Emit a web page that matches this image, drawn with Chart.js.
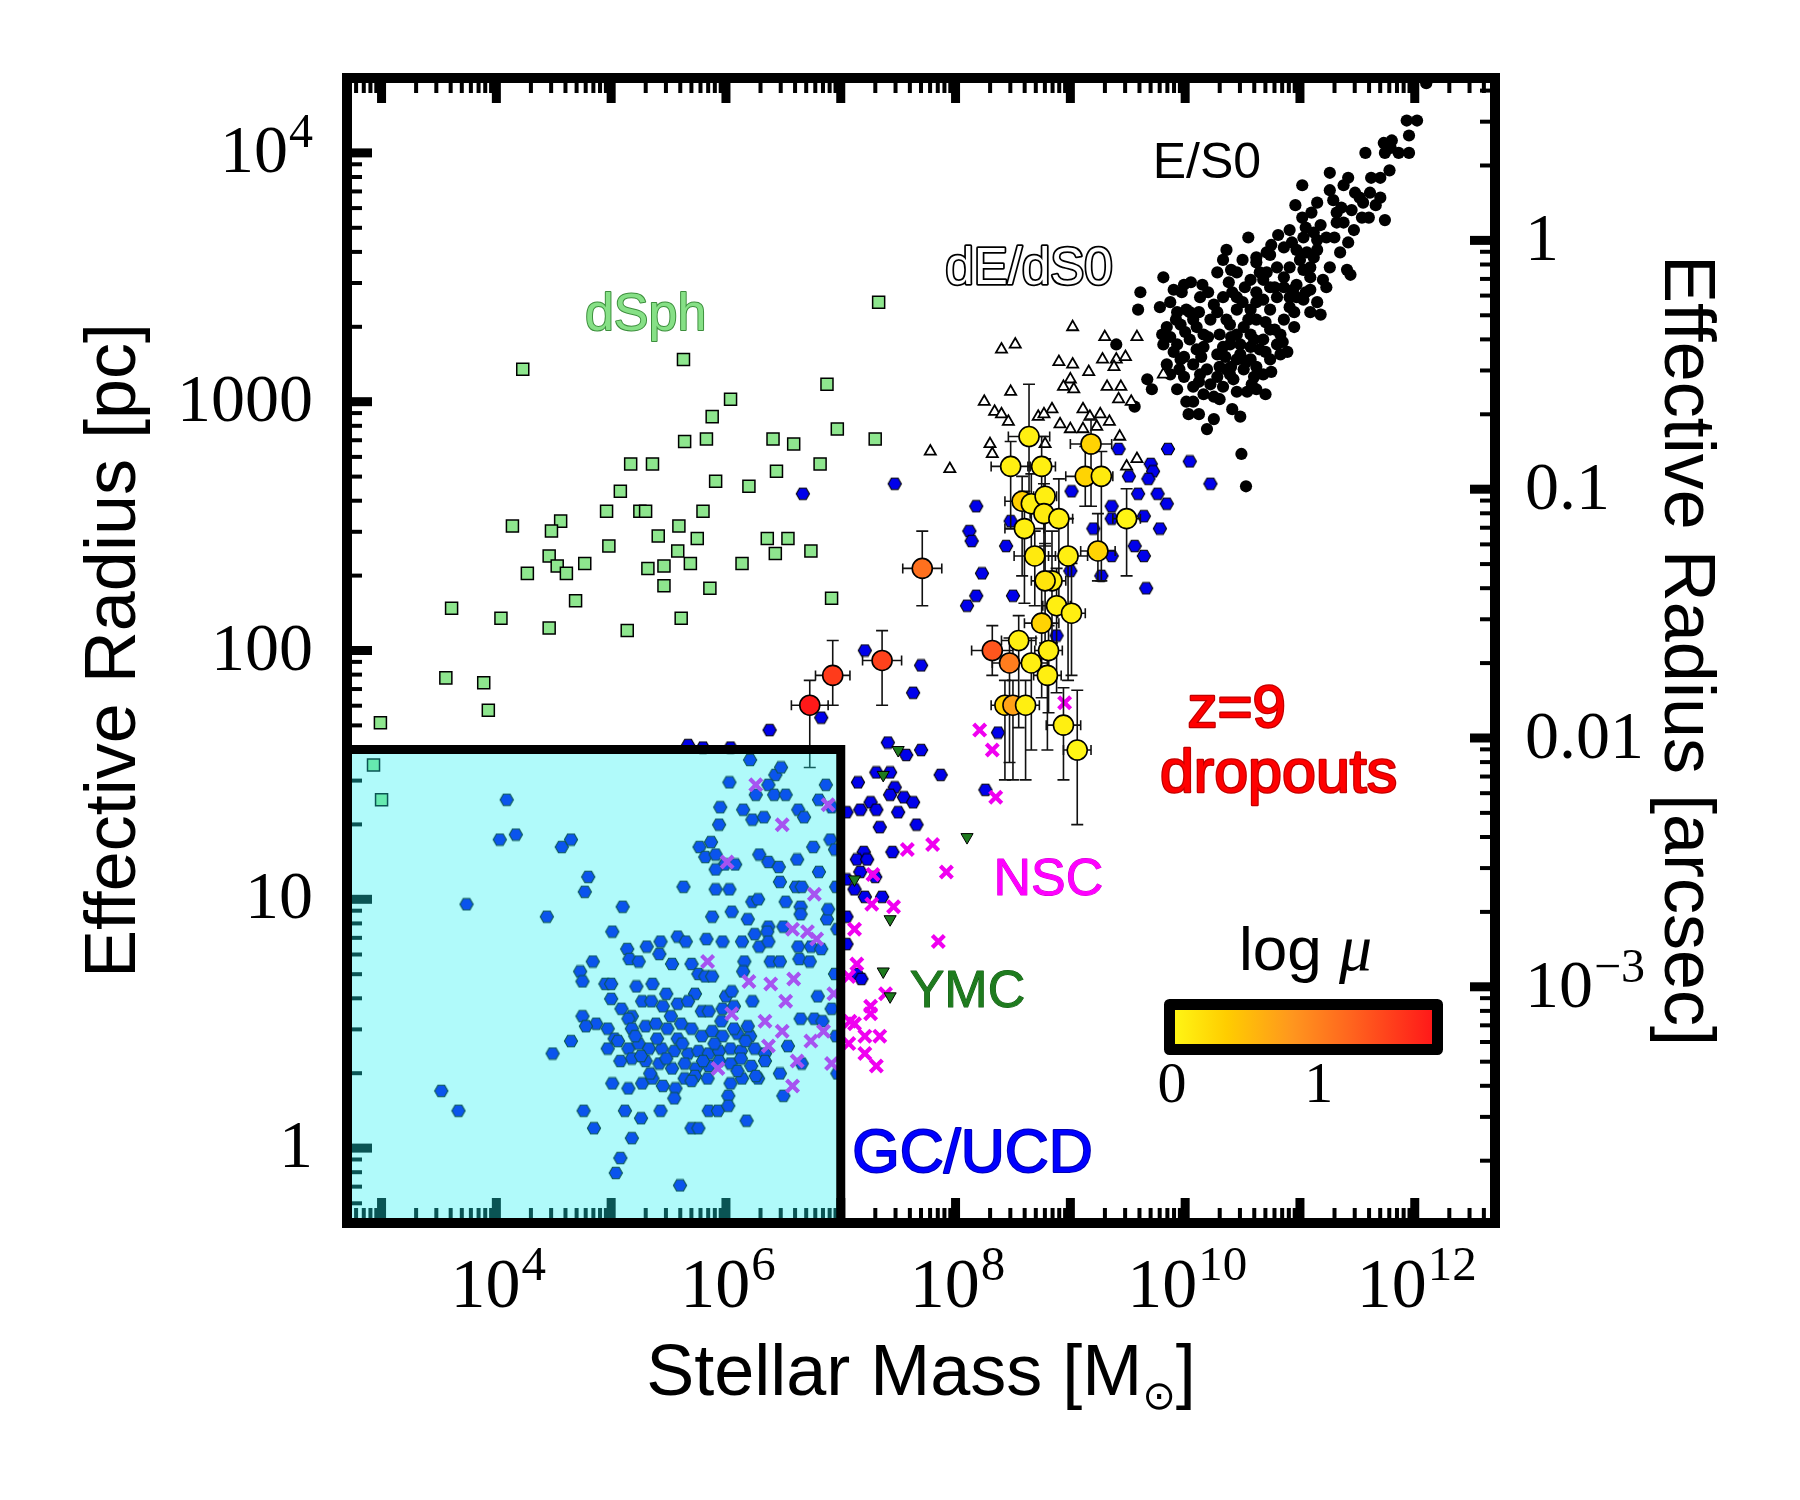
<!DOCTYPE html>
<html>
<head>
<meta charset="utf-8">
<title>Effective radius vs stellar mass</title>
<script src="https://cdn.jsdelivr.net/npm/chart.js@4.4.1/dist/chart.umd.min.js"></script>
<style>
  html, body { margin: 0; padding: 0; background: #fff; }
  canvas { display: block; }
</style>
</head>
<body>
<canvas id="sizeMassChart" width="1800" height="1500"></canvas>
<script>
// all pairs are [log10(M*/Msun), log10(Re/pc)]

const ellipticals = [
  [11.93,4.13],[12.02,4.13],[11.95,4.07],[11.95,4.00],[11.73,4.04],[11.80,4.05],[11.79,4.02],[11.74,4.00],
  [11.57,4.00],[11.78,3.93],[11.70,3.90],[11.26,3.92],[11.42,3.90],[11.38,3.87],[11.26,3.85],[11.02,3.87],
  [11.29,3.81],[11.48,3.84],[11.52,3.82],[11.61,3.84],[11.70,3.82],[11.66,3.79],[10.96,3.79],[11.10,3.76],
  [11.02,3.74],[11.54,3.74],[11.60,3.74],[11.74,3.73],[11.47,3.69],[11.32,3.72],[11.38,3.72],[11.18,3.71],
  [11.12,3.68],[11.23,3.66],[11.42,3.64],[10.81,3.67],[10.93,3.64],[10.55,3.66],[10.86,3.62],[10.74,3.59],
  [10.62,3.58],[10.97,3.61],[11.06,3.60],[11.15,3.61],[10.36,3.61],[10.33,3.57],[10.45,3.52],[10.28,3.52],
  [10.62,3.56],[11.41,3.53],[11.44,3.51],[9.81,3.50],[9.99,3.47],[10.15,3.47],[11.20,3.49],[11.23,3.46],
  [10.52,3.46],[10.68,3.49],[10.74,3.46],[10.86,3.46],[10.97,3.47],[11.09,3.45],[10.41,3.44],[9.61,3.44],
  [9.59,3.37],[9.87,3.40],[9.97,3.44],[10.01,3.37],[10.04,3.36],[10.25,3.39],[10.33,3.42],[10.45,3.37],
  [10.57,3.37],[10.68,3.41],[10.80,3.42],[10.91,3.38],[11.03,3.41],[11.15,3.40],[11.09,3.36],[11.18,3.35],
  [9.84,3.30],[9.96,3.31],[10.10,3.30],[10.22,3.33],[10.30,3.27],[10.39,3.31],[10.51,3.30],[10.62,3.33],
  [10.74,3.29],[10.83,3.27],[10.89,3.20],[9.81,3.23],[9.93,3.23],[10.04,3.25],[10.16,3.22],[10.28,3.19],
  [10.39,3.23],[10.48,3.19],[10.57,3.22],[10.65,3.21],[10.74,3.17],[10.83,3.19],[9.84,3.15],[9.96,3.17],
  [10.07,3.15],[10.19,3.13],[10.30,3.14],[10.39,3.11],[10.51,3.13],[10.60,3.10],[10.68,3.11],[9.87,3.11],
  [9.99,3.10],[10.13,3.11],[10.22,3.07],[10.33,3.06],[10.42,3.09],[10.54,3.04],[10.62,3.05],[10.70,3.03],
  [9.67,3.09],[9.71,3.05],[10.01,3.00],[10.07,3.00],[10.30,3.01],[10.41,2.97],[10.03,2.95],[10.12,2.95],
  [10.25,2.93],[10.48,2.94],[10.19,2.89],[10.49,2.79],[10.53,2.66],[9.40,3.23],[9.56,2.98],
  [10.07,3.33],[10.16,3.27],[10.45,3.27],[10.57,3.27],[10.68,3.25],[10.33,3.22],[10.10,3.21],[9.99,3.18],
  [10.62,3.14],[10.45,3.17],[10.28,3.10],[10.16,3.03],[10.86,3.33],[10.97,3.42],[10.62,3.44],[10.74,3.37],
  [10.86,3.50],[11.03,3.53],[11.09,3.54],[10.91,3.54],[10.80,3.54],[10.71,3.52],[10.57,3.49],[10.45,3.42],
  [10.28,3.36],[10.13,3.42],[9.93,3.36],[9.87,3.26],[10.48,3.23],[10.80,3.23],[10.36,3.13],[10.57,3.17],
  [9.93,3.05],[10.07,3.06],[11.32,3.76],[11.15,3.65],[11.03,3.66],[11.35,3.60],[10.91,3.69],[10.71,3.60],
  [11.09,3.50],[11.26,3.54],[10.91,3.42],[12.10,4.28],
  [9.90,3.45],[10.05,3.48],[10.20,3.44],[10.38,3.48],[10.50,3.40],[10.62,3.40],[10.78,3.46],[10.94,3.45],
  [9.78,3.38],[9.92,3.33],[10.12,3.36],[10.36,3.33],[10.55,3.33],[10.70,3.32],[10.95,3.36],[11.05,3.44],
  [9.80,3.27],[10.00,3.28],[10.20,3.26],[10.40,3.26],[10.60,3.25],[10.78,3.29],[10.95,3.30],
  [9.90,3.20],[10.14,3.18],[10.35,3.18],[10.53,3.16],[10.70,3.20],[10.85,3.24],
  [9.95,3.13],[10.12,3.08],[10.40,3.14],[10.58,3.07],[10.75,3.12],[10.25,3.02],[10.45,3.04],
  [11.00,3.57],[10.75,3.63],[10.50,3.57],[10.40,3.53],[11.12,3.58],[11.30,3.66],[11.36,3.78],[11.55,3.80],
  [11.45,3.77],[11.15,3.80],[11.62,3.90],[11.86,4.00],[11.05,3.70],[10.65,3.52]
];

const dwarfEllipticals = [
  [9.02,3.30],[8.40,3.21],[8.52,3.23],[9.30,3.26],[9.58,3.26],[8.90,3.16],[9.02,3.15],[9.28,3.17],
  [9.40,3.17],[9.48,3.18],[9.16,3.12],[9.38,3.14],[9.00,3.09],[8.94,3.06],[9.03,3.05],[9.32,3.06],
  [9.44,3.06],[8.48,3.04],[8.25,3.00],[8.34,2.96],[8.40,2.95],[8.46,2.92],[8.72,2.94],[8.84,2.97],
  [9.11,2.97],[9.17,2.94],[9.26,2.95],[9.34,2.92],[8.91,2.91],[9.00,2.89],[9.11,2.89],[9.23,2.90],
  [9.42,3.01],[9.53,3.00],[9.43,2.86],[8.77,2.95],[8.30,2.83],[8.32,2.79],[8.78,2.83],[7.78,2.80],
  [7.95,2.73],[9.58,2.77],[9.49,2.74],[9.81,3.11]
];

const dwarfSpheroidals = [
  [4.23,3.13],[5.63,3.17],[6.88,3.07],[6.04,3.01],[5.88,2.94],[6.97,2.89],[5.64,2.84],[5.83,2.85],
  [6.41,2.85],[6.59,2.83],[5.17,2.75],[5.36,2.75],[6.82,2.75],[6.44,2.72],[5.91,2.68],[6.20,2.66],
  [5.08,2.64],[4.96,2.56],[5.25,2.56],[5.30,2.56],[5.80,2.56],[4.14,2.50],[4.56,2.52],[4.48,2.48],
  [5.59,2.50],[5.41,2.46],[5.75,2.45],[6.36,2.45],[6.54,2.45],[4.98,2.42],[4.46,2.38],[5.58,2.40],
  [6.43,2.39],[6.74,2.40],[4.53,2.34],[4.61,2.31],[4.27,2.31],[4.77,2.35],[5.32,2.33],[5.46,2.34],
  [5.69,2.35],[6.14,2.35],[5.46,2.26],[5.86,2.25],[6.92,2.21],[4.69,2.20],[3.61,2.17],[4.04,2.13],
  [4.46,2.09],[5.14,2.08],[5.61,2.13],[3.56,1.89],[3.89,1.87],[3.93,1.76],[2.99,1.71],[7.33,3.40],
  [7.30,2.85],[2.93,1.54],[3.00,1.40]
];

const globularClusters = [
  // inside the GC/UCD box
  [4.09,1.40],[4.03,1.24],[4.17,1.26],[4.57,1.21],[4.65,1.24],[4.80,1.09],[4.77,1.03],[3.74,0.98],
  [4.44,0.93],[5.10,0.97],[5.01,0.87],[3.52,0.23],[3.67,0.15],[4.65,0.43],[4.49,0.38],[4.76,0.15],
  [4.85,0.08],[5.08,-0.04],[5.04,-0.10],[5.60,-0.15],[5.18,0.04],[5.12,0.15],[5.26,0.12],[5.43,0.15],
  [5.70,0.08],[5.76,0.08],[5.85,0.15],[5.93,0.15],[6.18,0.11],[6.50,0.21],
  [6.21,1.56],[6.43,1.50],[6.48,1.53],[6.03,1.47],[6.37,1.46],[6.26,1.42],[6.42,1.42],[6.52,1.42],
  [6.87,1.46],[5.95,1.37],[6.15,1.36],[6.63,1.36],[6.68,1.33],[6.81,1.40],[6.92,1.37],[5.94,1.30],
  [6.23,1.32],[6.33,1.33],[5.87,1.23],[5.77,1.21],[5.82,1.17],[5.91,1.18],[6.08,1.14],[5.99,1.14],
  [5.91,1.12],[6.29,1.18],[6.37,1.15],[6.46,1.13],[6.62,1.16],[6.76,1.21],[6.91,1.24],[6.81,1.11],
  [6.47,1.07],[6.61,1.05],[6.66,1.05],[5.63,1.05],[5.91,1.04],[6.03,1.04],[6.23,0.99],[6.28,1.00],
  [6.52,0.99],[6.65,0.97],[6.65,0.94],[5.88,0.93],[6.05,0.95],[6.19,0.92],[6.37,0.89],[6.50,0.89],
  [6.88,0.92],[6.89,0.96],[6.25,0.86],[6.36,0.87],[5.83,0.84],[5.97,0.83],[6.14,0.83],[6.29,0.81],
  [6.37,0.83],[6.63,0.81],[6.74,0.81],[6.83,0.80],[6.64,0.76],[6.73,0.75],[6.39,0.75],[6.47,0.75],
  [6.16,0.75],[6.15,0.71],[6.23,0.59],[6.80,0.61],[6.92,0.56],[6.65,0.52],[6.77,0.52],[6.84,0.51],
  [6.54,0.41],[6.66,0.34],[6.47,0.30],[6.28,0.28],[6.21,0.45],[6.10,0.46],
  [5.14,0.80],[5.31,0.81],[5.43,0.83],[5.58,0.85],[5.65,0.83],[5.42,0.78],[5.53,0.74],[5.16,0.76],
  [5.24,0.75],[4.84,0.75],[4.73,0.71],[4.75,0.67],[4.95,0.66],[5.00,0.66],[5.22,0.65],[5.36,0.66],
  [5.48,0.62],[5.70,0.74],[5.76,0.70],[5.82,0.69],[5.73,0.62],[5.88,0.69],[6.00,0.61],[6.05,0.63],
  [5.00,0.60],[5.09,0.56],[5.18,0.53],[5.27,0.59],[5.35,0.59],[5.45,0.57],[5.58,0.58],[5.67,0.59],
  [5.79,0.55],[5.85,0.55],[5.97,0.56],[6.07,0.57],[4.75,0.53],[4.87,0.50],[4.78,0.49],[4.97,0.48],
  [5.03,0.44],[5.15,0.52],[5.18,0.48],[5.30,0.49],[5.39,0.50],[5.49,0.48],[5.61,0.50],[5.70,0.48],
  [5.79,0.45],[5.88,0.47],[5.97,0.45],[6.07,0.48],[6.19,0.49],[4.97,0.40],[5.06,0.43],[5.15,0.40],
  [5.24,0.42],[5.33,0.40],[5.44,0.40],[5.55,0.39],[5.67,0.38],[5.76,0.39],[5.85,0.38],[5.94,0.39],
  [6.04,0.40],[6.13,0.39],[6.25,0.40],[6.34,0.38],[5.18,0.36],[5.30,0.35],[5.42,0.34],[5.53,0.32],
  [5.64,0.34],[5.74,0.32],[5.85,0.33],[5.94,0.35],[6.04,0.34],[6.13,0.36],[6.22,0.33],[6.34,0.35],
  [5.01,0.26],[5.15,0.24],[5.27,0.26],[5.36,0.28],[5.45,0.25],[5.56,0.24],[5.64,0.28],[5.73,0.29],
  [5.84,0.28],[6.04,0.26],[6.14,0.28],[6.26,0.29],[5.55,0.20],[6.02,0.21],[6.02,0.17],
  [5.21,0.45],[5.48,0.36],[5.58,0.44],[5.90,0.42],[5.34,0.30],[5.70,0.27],[6.10,0.31],[5.52,0.53],
  [5.08,0.35],[5.40,0.44],[5.62,0.42],[5.96,0.51],[5.26,0.37],[5.80,0.35],[6.17,0.43],
  [6.95,1.20],[6.96,1.05],[6.97,0.88],[6.95,0.70],[6.96,0.45],[6.97,0.30],
  [5.67,1.62],[5.80,1.61],[6.04,1.61],
  // outside the box (UCDs)
  [6.38,1.68],[6.83,1.73],[7.70,1.94],[7.63,1.83],[8.37,1.67],[7.41,1.63],[7.57,1.58],[7.70,1.60],
  [7.87,1.50],[7.31,1.51],[7.43,1.51],[7.15,1.47],[7.47,1.45],[7.43,1.42],[7.55,1.41],[7.63,1.39],
  [7.26,1.39],[7.17,1.36],[7.31,1.36],[7.50,1.35],[7.66,1.30],[7.34,1.29],[8.26,1.44],[7.05,1.35],
  [7.20,1.19],[7.14,1.16],[7.23,1.16],[7.45,1.19],[7.17,1.11],[7.30,1.09],[7.12,1.04],[7.21,1.01],
  [7.36,1.01],[7.05,1.08],[7.05,0.93],[7.05,0.82],[7.14,0.70],[7.18,0.68],
  [7.47,2.67],[6.67,2.63],[8.18,2.58],[8.12,2.48],[8.14,2.44],[8.44,2.42],[8.48,2.52],[8.23,2.31],
  [8.18,2.22],[8.10,2.18],[8.50,2.22],[9.01,2.64],[9.42,2.81],[9.85,2.81],[10.04,2.76],[10.22,2.67],
  [9.51,2.70],[9.70,2.75],[9.72,2.72],[9.68,2.69],[9.36,2.58],[9.59,2.63],[9.76,2.63],[9.84,2.59],
  [9.64,2.54],[9.78,2.49],[9.36,2.53],[9.20,2.49],[9.56,2.42],[9.64,2.38],[9.36,2.38],[9.27,2.30],
  [9.66,2.25],[9.00,2.32],[8.88,2.06],[7.21,2.00]
];

const nuclearClusters = [
  [8.21,1.68],[8.32,1.60],[8.35,1.41],[8.95,1.79],[7.58,1.20],[7.80,1.22],[7.92,1.11],[7.28,1.10],
  [7.46,0.97],[7.27,0.98],[7.85,0.83],[7.12,0.88],[7.14,0.74],[7.07,0.69],[7.26,0.57],[7.26,0.54],
  [7.39,0.62],[7.12,0.50],[7.21,0.45],[7.34,0.45],[7.21,0.38],[7.31,0.33],[7.07,0.42],[7.08,0.51],
  [6.26,1.46],[6.49,1.30],[6.89,1.38],[6.01,1.15],[6.77,1.02],[6.58,0.88],[6.71,0.87],[6.79,0.84],
  [5.84,0.75],[6.20,0.67],[6.39,0.66],[6.59,0.68],[6.52,0.59],[6.94,0.62],[6.05,0.54],[6.34,0.51],
  [6.49,0.47],[6.74,0.43],[6.85,0.47],[6.37,0.41],[6.62,0.35],[6.92,0.34],[5.93,0.32],[6.58,0.25]
];

const youngMassiveClusters = [
  [7.50,1.60],[7.37,1.50],[8.10,1.25],[7.12,1.08],[7.43,0.92],[7.37,0.71],[7.43,0.61]
];

// z=9 dropouts: position, log magnification, error bars (dex)
const dropLogM   = [8.64,9.18,8.48,8.75,9.13,9.27,8.58,8.66,8.78,8.77,8.90,8.60,9.49,8.69,8.98,9.24,8.84,8.78,8.88,9.01,8.75,8.55,8.81,8.66,8.80,8.32,8.47,8.43,8.50,8.61,8.94,9.06,7.71,7.36,6.93,6.73];
const dropLogR   = [2.86,2.83,2.74,2.74,2.70,2.70,2.60,2.59,2.62,2.55,2.53,2.49,2.53,2.38,2.38,2.40,2.28,2.28,2.18,2.15,2.11,2.04,2.00,1.95,1.90,2.00,1.95,1.78,1.78,1.78,1.70,1.60,2.33,1.96,1.90,1.78];
const dropLogMu  = [0.05,0.30,0.05,0.05,0.30,0.10,0.35,0.05,0.05,0.10,0.05,0.05,0.00,0.10,0.05,0.30,0.05,0.15,0.05,0.05,0.30,0.05,0.05,0.05,0.05,1.30,1.00,0.30,0.70,0.05,0.05,0.00,1.10,1.45,1.50,1.75];
const dropErrM   = [0.18,0.18,0.17,0.12,0.17,0.10,0.15,0.12,0.10,0.12,0.12,0.17,0.12,0.18,0.17,0.15,0.12,0.12,0.12,0.12,0.15,0.15,0.12,0.15,0.12,0.18,0.15,0.12,0.12,0.12,0.15,0.12,0.17,0.17,0.15,0.16];
const dropErrUp  = [0.21,0.10,0.10,0.12,0.12,0.10,0.10,0.12,0.15,0.12,0.16,0.15,0.12,0.10,0.15,0.15,0.20,0.15,0.15,0.20,0.15,0.10,0.10,0.10,0.10,0.10,0.10,0.10,0.10,0.10,0.15,0.24,0.15,0.12,0.14,0.10];
const dropErrDown= [0.25,0.25,0.25,0.15,0.12,0.42,0.30,0.20,0.20,0.30,0.35,0.30,0.23,0.20,0.50,0.12,0.25,0.25,0.35,0.25,0.30,0.35,0.25,0.35,0.30,0.10,0.40,0.30,0.30,0.30,0.22,0.30,0.15,0.18,0.12,0.25];

// axes
const massRange = [500, 5e12];
const radiusRange = [0.5, 2e4];
const pcPerArcsec = 4450;          // physical scale at z = 9
const boxMaxMass = 1e7;            // GC/UCD region
const boxMaxRadius = 40;
const xTickExps = [4, 6, 8, 10, 12];
const yTickLabels = ['1', '10', '100', '1000', '10^4'];
const arcsecTickLabels = ['10^-3', '0.01', '0.1', '1'];
const logMuTicks = ['0', '1'];
const logMuMax = 1.75;
const cmapStops = [
  [0.0, [255, 245, 20]],
  [0.35, [255, 205, 0]],
  [0.8, [255, 150, 30]],
  [1.2, [255, 100, 30]],
  [1.75, [255, 25, 25]]
];

function cmap(v) {
  if (v <= cmapStops[0][0]) return cmapStops[0][1];
  for (let i = 1; i < cmapStops.length; i++) {
    const [a, ca] = cmapStops[i - 1], [b, cb] = cmapStops[i];
    if (v <= b) {
      const t = (v - a) / (b - a);
      return ca.map((c, j) => Math.round(c + (cb[j] - c) * t));
    }
  }
  return cmapStops[cmapStops.length - 1][1];
}
const rgb = c => `rgb(${c[0]},${c[1]},${c[2]})`;
const toPoints = list => list.map(p => ({ x: Math.pow(10, p[0]), y: Math.pow(10, p[1]) }));

// hexagon marker for the GC/UCD points
const hexMarker = (function () {
  const c = document.createElement('canvas');
  c.width = 16; c.height = 14;
  const g = c.getContext('2d');
  g.beginPath();
  for (let k = 0; k < 6; k++) {
    const a = k * Math.PI / 3;
    const x = 8 + 6.6 * Math.cos(a), y = 7 + 6.6 * Math.sin(a);
    k ? g.lineTo(x, y) : g.moveTo(x, y);
  }
  g.closePath();
  g.fillStyle = 'rgb(0,0,235)';
  g.fill();
  g.lineWidth = 1.1;
  g.strokeStyle = '#000';
  g.stroke();
  return c;
})();

function drawPow(ctx, base, exp, xLeft, baseline, size, raise) {
  ctx.font = `${size}px "Liberation Serif"`;
  const wb = ctx.measureText(base).width;
  ctx.textAlign = 'left';
  ctx.fillText(base, xLeft, baseline);
  ctx.font = `${Math.round(size * 0.7)}px "Liberation Serif"`;
  ctx.fillText(exp, xLeft + wb + 1, baseline - raise);
}
function powWidth(ctx, base, exp, size) {
  ctx.font = `${size}px "Liberation Serif"`;
  const wb = ctx.measureText(base).width;
  ctx.font = `${Math.round(size * 0.7)}px "Liberation Serif"`;
  return wb + 1 + ctx.measureText(exp).width;
}
function drawLabel(ctx, text, x, y, size, fill, stroke, lw) {
  ctx.font = `${size}px "Liberation Sans"`;
  ctx.textAlign = 'left';
  ctx.textBaseline = 'alphabetic';
  if (stroke) {
    ctx.lineJoin = 'round';
    ctx.lineWidth = lw;
    ctx.strokeStyle = stroke;
    ctx.strokeText(text, x, y);
  }
  ctx.fillStyle = fill;
  ctx.fillText(text, x, y);
}
function drawTickText(ctx, label, x, baseline, align, size) {
  const parts = label.split('^');
  const w = parts.length > 1 ? powWidth(ctx, parts[0], parts[1].replace('-', '\u2212'), size)
                             : (ctx.font = `${size}px "Liberation Serif"`, ctx.measureText(label).width);
  const left = align === 'right' ? x - w : x;
  if (parts.length > 1) {
    drawPow(ctx, parts[0], parts[1].replace('-', '\u2212'), left, baseline, size, 25);
  } else {
    ctx.font = `${size}px "Liberation Serif"`;
    ctx.textAlign = 'left';
    ctx.fillText(label, left, baseline);
  }
}

function drawErrorBars(chart) {
  const ctx = chart.ctx, xs = chart.scales.x, ys = chart.scales.y;
  ctx.save();
  ctx.strokeStyle = '#111';
  ctx.lineWidth = 1.6;
  dropLogM.forEach((m, i) => {
    const r = dropLogR[i];
    const x = xs.getPixelForValue(10 ** m), y = ys.getPixelForValue(10 ** r);
    const x0 = xs.getPixelForValue(10 ** (m - dropErrM[i]));
    const x1 = xs.getPixelForValue(10 ** (m + dropErrM[i]));
    const y0 = ys.getPixelForValue(10 ** (r + dropErrUp[i]));
    const y1 = ys.getPixelForValue(10 ** (r - dropErrDown[i]));
    ctx.beginPath();
    ctx.moveTo(x0, y); ctx.lineTo(x1, y);
    ctx.moveTo(x0, y - 5); ctx.lineTo(x0, y + 5);
    ctx.moveTo(x1, y - 5); ctx.lineTo(x1, y + 5);
    ctx.moveTo(x, y0); ctx.lineTo(x, y1);
    ctx.moveTo(x - 6, y0); ctx.lineTo(x + 6, y0);
    ctx.moveTo(x - 6, y1); ctx.lineTo(x + 6, y1);
    ctx.stroke();
  });
  ctx.restore();
}

const decorations = {
  id: 'decorations',
  beforeDraw(chart) {
    const ctx = chart.ctx;
    ctx.save();
    ctx.fillStyle = '#fff';
    ctx.fillRect(0, 0, chart.width, chart.height);
    ctx.restore();
  },
  beforeDatasetDraw(chart, args) {
    if (chart.data.datasets[args.index].label === 'z=9 dropouts') drawErrorBars(chart);
  },
  afterDatasetsDraw(chart) {
    const ctx = chart.ctx, a = chart.chartArea;
    const xs = chart.scales.x, ys = chart.scales.y;
    ctx.save();

    // inward ticks on all four sides
    ctx.strokeStyle = '#000';
    for (let d = 2; d <= 12; d++) {
      for (let k = 1; k <= 9; k++) {
        const v = k * Math.pow(10, d);
        if (v < massRange[0] || v > massRange[1]) continue;
        const x = xs.getPixelForValue(v), major = k === 1;
        const len = major ? 25 : 15;
        ctx.lineWidth = major ? 9 : 4;
        ctx.beginPath();
        ctx.moveTo(x, a.bottom); ctx.lineTo(x, a.bottom - len);
        ctx.moveTo(x, a.top); ctx.lineTo(x, a.top + len);
        ctx.stroke();
      }
    }
    for (let d = -1; d <= 4; d++) {
      for (let k = 1; k <= 9; k++) {
        const v = k * Math.pow(10, d);
        if (v < radiusRange[0] || v > radiusRange[1]) continue;
        const y = ys.getPixelForValue(v), major = k === 1;
        ctx.lineWidth = major ? 9 : 4;
        ctx.beginPath();
        ctx.moveTo(a.left, y); ctx.lineTo(a.left + (major ? 25 : 15), y);
        ctx.stroke();
      }
    }
    for (let d = -4; d <= 1; d++) {
      for (let k = 1; k <= 9; k++) {
        const v = k * Math.pow(10, d) * pcPerArcsec;
        if (v < radiusRange[0] || v > radiusRange[1]) continue;
        const y = ys.getPixelForValue(v), major = k === 1;
        ctx.lineWidth = major ? 9 : 4;
        ctx.beginPath();
        ctx.moveTo(a.right, y); ctx.lineTo(a.right - (major ? 25 : 15), y);
        ctx.stroke();
      }
    }

    // GC/UCD region: translucent cyan box
    const bx = xs.getPixelForValue(boxMaxMass), by = ys.getPixelForValue(boxMaxRadius);
    ctx.fillStyle = 'rgba(30,240,240,0.35)';
    ctx.fillRect(a.left, by, bx - a.left, a.bottom - by);
    ctx.lineWidth = 9;
    ctx.lineJoin = 'miter';
    ctx.beginPath();
    ctx.moveTo(a.left, by); ctx.lineTo(bx, by); ctx.lineTo(bx, a.bottom);
    ctx.stroke();

    // frame
    ctx.lineWidth = 10;
    ctx.strokeRect(a.left, a.top, a.right - a.left, a.bottom - a.top);

    // tick labels
    ctx.fillStyle = '#000';
    ctx.textBaseline = 'alphabetic';
    xTickExps.forEach(e => {
      const x = xs.getPixelForValue(Math.pow(10, e));
      const w = powWidth(ctx, '10', String(e), 70);
      drawPow(ctx, '10', String(e), x - w / 2 + 2, a.bottom + 84, 70, 27);
    });
    yTickLabels.forEach((t, i) => {
      const y = ys.getPixelForValue(Math.pow(10, i));
      drawTickText(ctx, t, a.left - 34, y + 19, 'right', 68);
    });
    arcsecTickLabels.forEach((t, i) => {
      const y = ys.getPixelForValue(Math.pow(10, i - 3) * pcPerArcsec);
      drawTickText(ctx, t, a.right + 30, y + 20, 'left', 68);
    });

    // axis titles
    ctx.fillStyle = '#000';
    ctx.font = '72px "Liberation Sans"';
    const t1 = 'Stellar Mass [M', t3 = ']';
    const w1 = ctx.measureText(t1).width, w3 = ctx.measureText(t3).width;
    ctx.font = '40px "DejaVu Sans"';
    const w2 = ctx.measureText('\u2299').width;
    let tx = (a.left + a.right) / 2 - (w1 + w2 + w3) / 2;
    const tb = a.bottom + 172;
    ctx.textAlign = 'left';
    ctx.font = '72px "Liberation Sans"';
    ctx.fillText(t1, tx, tb);
    ctx.font = '40px "DejaVu Sans"';
    ctx.fillText('\u2299', tx + w1, tb + 14);
    ctx.font = '72px "Liberation Sans"';
    ctx.fillText(t3, tx + w1 + w2, tb);

    const midY = (a.top + a.bottom) / 2;
    ctx.textAlign = 'center';
    ctx.save();
    ctx.translate(a.left - 212, midY);
    ctx.rotate(-Math.PI / 2);
    ctx.fillText('Effective Radius [pc]', 0, 0);
    ctx.restore();
    ctx.save();
    ctx.translate(a.right + 170, midY);
    ctx.rotate(Math.PI / 2);
    ctx.fillText('Effective Radius [arcsec]', 0, 0);
    ctx.restore();

    // population labels (anchored in data coordinates)
    const at = (m, r) => [xs.getPixelForValue(Math.pow(10, m)), ys.getPixelForValue(Math.pow(10, r))];
    let p;
    ctx.font = '50px "Liberation Sans"';
    p = at(10.19, 3.90);
    drawLabel(ctx, 'E/S0', p[0] - ctx.measureText('E/S0').width / 2, p[1], 50, '#000');
    ctx.font = '51px "Liberation Sans"';
    p = at(8.64, 3.473);
    drawLabel(ctx, 'dE/dS0', p[0] - ctx.measureText('dE/dS0').width / 2, p[1], 51, '#fff', '#000', 3.5);
    ctx.font = '52px "Liberation Sans"';
    p = at(5.30, 3.288);
    drawLabel(ctx, 'dSph', p[0] - ctx.measureText('dSph').width / 2, p[1], 52, '#86e086', '#3d8f3d', 2);
    p = at(10.02, 1.693);
    drawLabel(ctx, 'z=9', p[0], p[1], 60, '#ff0000', '#c00000', 2.5);
    p = at(9.78, 1.431);
    drawLabel(ctx, 'dropouts', p[0], p[1], 61, '#ff0000', '#c00000', 2.5);
    p = at(8.33, 1.017);
    drawLabel(ctx, 'NSC', p[0], p[1], 52, '#ff00ff', '#d000d0', 1);
    p = at(7.60, 0.567);
    drawLabel(ctx, 'YMC', p[0], p[1], 52, '#1e7b1e', '#145a14', 1);
    p = at(7.10, -0.096);
    drawLabel(ctx, 'GC/UCD', p[0], p[1], 61, '#0000ff', '#0000b0', 2);

    // colour bar for log mu
    const cbL = a.right - 331, cbT = a.bottom - 224, cbW = 279, cbH = 56, bw = 11;
    const inL = cbL + bw, inR = cbL + cbW - bw;
    const grad = ctx.createLinearGradient(inL, 0, inR, 0);
    cmapStops.forEach(s => grad.addColorStop(s[0] / logMuMax, rgb(s[1])));
    ctx.fillStyle = grad;
    ctx.fillRect(inL, cbT + bw, inR - inL, cbH - 2 * bw);
    ctx.lineWidth = bw;
    ctx.strokeStyle = '#000';
    ctx.strokeRect(cbL + bw / 2, cbT + bw / 2, cbW - bw, cbH - bw);
    ctx.fillStyle = '#000';
    ctx.font = '58px "Liberation Serif"';
    ctx.textAlign = 'center';
    logMuTicks.forEach(t => {
      const x = inL + (Number(t) / logMuMax) * (inR - inL);
      ctx.fillText(t, x - 3, cbT + cbH + 47);
    });
    ctx.font = '62px "Liberation Sans"';
    const wl = ctx.measureText('log ').width;
    ctx.font = 'italic 66px "Liberation Serif"';
    const wm = ctx.measureText('\u03bc').width;
    const lx = cbL + cbW / 2 - (wl + wm) / 2 + 2;
    ctx.textAlign = 'left';
    ctx.font = '62px "Liberation Sans"';
    ctx.fillText('log ', lx, cbT - 29);
    ctx.font = 'italic 66px "Liberation Serif"';
    ctx.fillText('\u03bc', lx + wl, cbT - 29);

    ctx.restore();
  }
};

const ctx = document.getElementById('sizeMassChart');

new Chart(ctx, {
  type: 'scatter',
  data: {
    datasets: [
      {
        label: 'z=9 dropouts',
        data: dropLogM.map((m, i) => ({ x: 10 ** m, y: 10 ** dropLogR[i] })),
        pointStyle: 'circle',
        pointRadius: 10,
        backgroundColor: dropLogMu.map(v => rgb(cmap(v))),
        borderColor: '#000',
        borderWidth: 1.6,
        order: 0
      },
      {
        label: 'YMC',
        data: toPoints(youngMassiveClusters),
        pointStyle: 'triangle',
        rotation: 180,
        pointRadius: 7,
        backgroundColor: '#1e7b1e',
        borderColor: '#000',
        borderWidth: 1,
        order: 1
      },
      {
        label: 'NSC',
        data: toPoints(nuclearClusters),
        pointStyle: 'crossRot',
        pointRadius: 8.5,
        borderColor: '#f000f0',
        borderWidth: 4.2,
        order: 2
      },
      {
        label: 'GC/UCD',
        data: toPoints(globularClusters),
        pointStyle: hexMarker,
        pointRadius: 6,
        order: 3
      },
      {
        label: 'dSph',
        data: toPoints(dwarfSpheroidals),
        pointStyle: 'rect',
        pointRadius: 8.5,
        backgroundColor: '#8ee68e',
        borderColor: '#000',
        borderWidth: 1.5,
        order: 4
      },
      {
        label: 'dE/dS0',
        data: toPoints(dwarfEllipticals),
        pointStyle: 'triangle',
        pointRadius: 6.4,
        backgroundColor: '#fff',
        borderColor: '#000',
        borderWidth: 1.8,
        order: 5
      },
      {
        label: 'E/S0',
        data: toPoints(ellipticals),
        pointStyle: 'circle',
        pointRadius: 6.1,
        backgroundColor: '#000',
        borderColor: '#000',
        borderWidth: 0,
        order: 6
      }
    ]
  },
  options: {
    responsive: false,
    animation: false,
    events: [],
    layout: { padding: { left: 347, top: 78, right: 305, bottom: 277 } },
    plugins: {
      legend: { display: false },
      title: { display: false },
      tooltip: { enabled: false }
    },
    scales: {
      x: { type: 'logarithmic', min: massRange[0], max: massRange[1], display: false },
      y: { type: 'logarithmic', min: radiusRange[0], max: radiusRange[1], display: false }
    }
  },
  plugins: [decorations]
});
</script>
</body>
</html>
